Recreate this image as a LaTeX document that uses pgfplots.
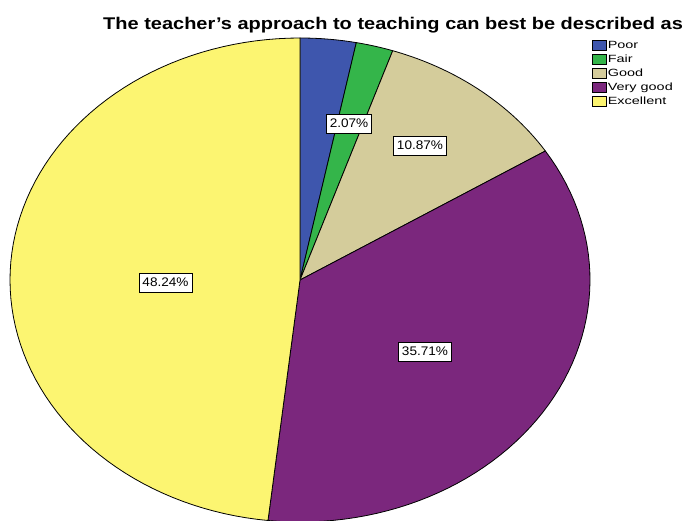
\documentclass[border=0pt]{standalone}
\usepackage{graphicx}
\usepackage{pgfplots}
\pgfplotsset{compat=1.18}
\usepackage{fontspec}
\setmainfont{Liberation Sans}
\definecolor{cPoor}{RGB}{62,86,173}
\definecolor{cFair}{RGB}{52,181,74}
\definecolor{cGood}{RGB}{212,204,155}
\definecolor{cVery}{RGB}{123,39,125}
\definecolor{cExc}{RGB}{252,245,113}
\newcommand{\legtxt}[1]{\scalebox{1.38}[1]{#1}}
\begin{document}
\begin{tikzpicture}
\begin{axis}[
  name=ax,
  x=1bp, y=1bp,
  xmin=0, xmax=690, ymin=0, ymax=521,
  hide axis,
  clip=true,
  legend style={at={(axis cs:591.5,482.5)}, anchor=north west, draw=none, fill=none,
    font=\fontsize{10.5}{12}\selectfont, row sep=0pt, inner sep=0pt,
    nodes={inner xsep=1.5bp, inner ysep=2bp, text height=7.9bp, text depth=2bp, anchor=west}},
  legend cell align=left,
  legend image code/.code={\draw[#1, draw=black, line width=0.6bp] (0bp,-5bp) rectangle (14bp,5bp);},
]
% slices: Poor 3.11, Fair 2.07, Good 10.87, Very good 35.71, Excellent 48.24 (per cent, clockwise from top)
\addplot[fill=cPoor, draw=black, line width=0.8bp, domain={90-3.6*3.11}:{90}, samples=20]
  ({300+290*cos(x)},{241+242*sin(x)}) -- (300,241) -- cycle;
\addlegendentry{\legtxt{Poor}}
\addplot[fill=cFair, draw=black, line width=0.8bp, domain={90-3.6*5.18}:{90-3.6*3.11}, samples=20]
  ({300+290*cos(x)},{241+242*sin(x)}) -- (300,241) -- cycle;
\addlegendentry{\legtxt{Fair}}
\addplot[fill=cGood, draw=black, line width=0.8bp, domain={90-3.6*16.05}:{90-3.6*5.18}, samples=30]
  ({300+290*cos(x)},{241+242*sin(x)}) -- (300,241) -- cycle;
\addlegendentry{\legtxt{Good}}
\addplot[fill=cVery, draw=black, line width=0.8bp, domain={90-3.6*51.76}:{90-3.6*16.05}, samples=60]
  ({300+290*cos(x)},{241+242*sin(x)}) -- (300,241) -- cycle;
\addlegendentry{\legtxt{Very good}}
\addplot[fill=cExc, draw=black, line width=0.8bp, domain={90-3.6*100}:{90-3.6*51.76}, samples=80]
  ({300+290*cos(x)},{241+242*sin(x)}) -- (300,241) -- cycle;
\addlegendentry{\legtxt{Excellent}}
\tikzset{lbl/.style={draw=black, line width=0.6bp, fill=white, inner xsep=3.5bp, inner ysep=4.5bp,
  text height=9bp, text depth=1bp, font=\fontsize{12.5}{14}\selectfont}}
\node[lbl] at (axis cs:349,397) {\scalebox{1.09}[1]{2.07\%}};
\node[lbl] at (axis cs:420,375) {\scalebox{1.09}[1]{10.87\%}};
\node[lbl] at (axis cs:425,169) {\scalebox{1.09}[1]{35.71\%}};
\node[lbl] at (axis cs:165.5,238.5) {\scalebox{1.09}[1]{48.24\%}};
\node[anchor=base west, inner sep=0pt, font=\fontsize{17}{20}\bfseries] at (axis cs:103,491.7)
  {\scalebox{1.18}[1]{The teacher’s approach to teaching can best be described as}};
\end{axis}
\pgfresetboundingbox
\useasboundingbox (ax.south west) rectangle (ax.north east);
\end{tikzpicture}
\end{document}
